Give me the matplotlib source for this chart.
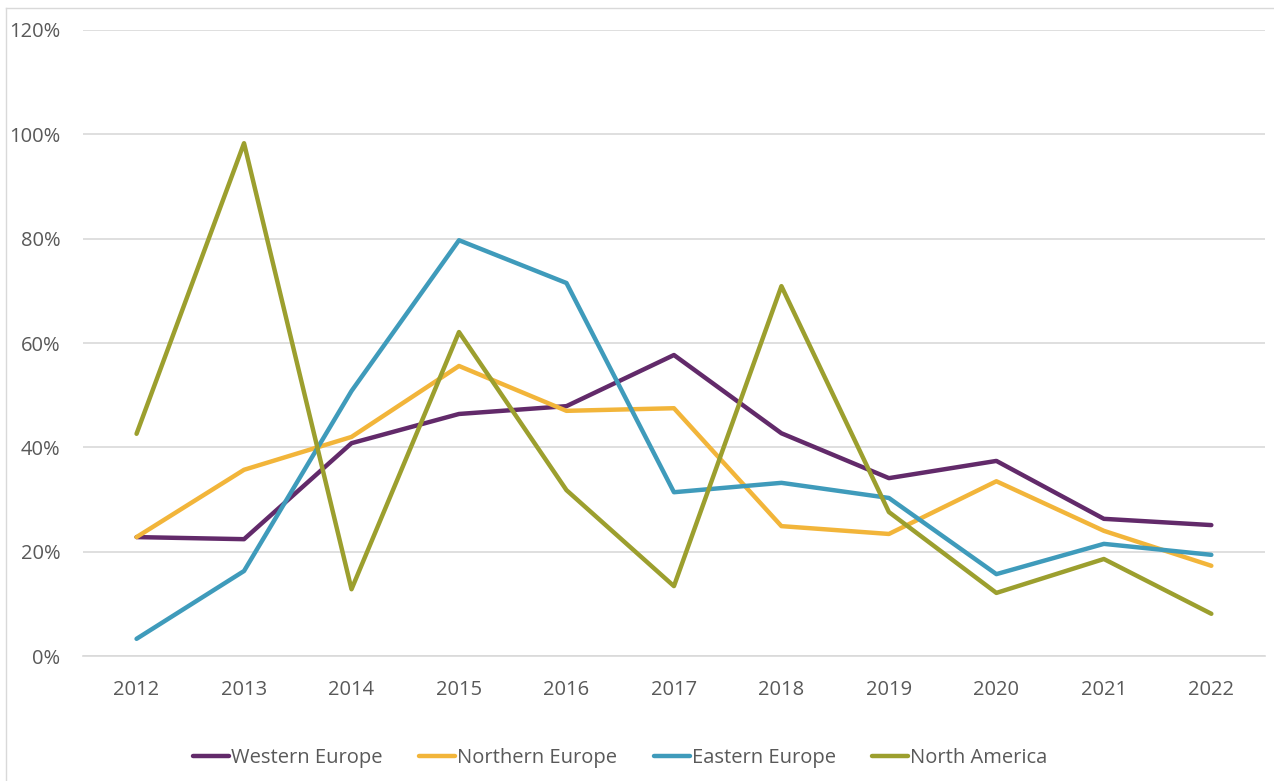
import matplotlib
matplotlib.use("Agg")
import matplotlib.pyplot as plt
from matplotlib.ticker import FuncFormatter
from matplotlib.lines import Line2D

years = [2012, 2013, 2014, 2015, 2016, 2017, 2018, 2019, 2020, 2021, 2022]
western_europe = [22.8, 22.4, 40.8, 46.4, 47.9, 57.7, 42.7, 34.1, 37.4, 26.3, 25.1]
northern_europe = [22.8, 35.7, 42.0, 55.6, 47.0, 47.5, 24.9, 23.4, 33.5, 24.0, 17.3]
eastern_europe = [3.3, 16.3, 50.8, 79.7, 71.5, 31.4, 33.2, 30.3, 15.7, 21.5, 19.4]
north_america = [42.6, 98.3, 12.8, 62.1, 31.8, 13.4, 70.9, 27.6, 12.1, 18.6, 8.1]

series = [
    ("Western Europe", western_europe, "#622A6A"),
    ("Northern Europe", northern_europe, "#F2B53A"),
    ("Eastern Europe", eastern_europe, "#3F9BBB"),
    ("North America", north_america, "#9C9F2E"),
]

plt.rcParams['font.family'] = ['Open Sans', 'DejaVu Sans']

fig = plt.figure(figsize=(12.74, 7.81), dpi=100)
ax = fig.add_axes([0.065, 0.160, 0.928, 0.8016])

for name, vals, col in series:
    ax.plot(years, vals, color=col, lw=3.2, label=name, solid_capstyle='round', solid_joinstyle='round')

ax.set_xlim(2011.5, 2022.5)
ax.set_ylim(0, 120)
ax.set_yticks(range(0, 121, 20))
ax.set_xticks(years)
ax.yaxis.set_major_formatter(FuncFormatter(lambda v, p: f"{int(v)}%"))
ax.grid(axis='y', color='#D9D9D9', lw=1.2)
ax.set_axisbelow(True)
for s in ['top', 'right', 'left']:
    ax.spines[s].set_visible(False)
ax.spines['bottom'].set_color('#D9D9D9')
ax.spines['bottom'].set_linewidth(1.2)
ax.tick_params(axis='both', length=0, labelsize=14.5, labelcolor='#595959')
ax.tick_params(axis='x', pad=17)
ax.tick_params(axis='y', pad=16)

handles = [Line2D([0], [0], color=c, lw=3.2, solid_capstyle='round') for _, _, c in series]
leg = fig.legend(handles, [n for n, _, _ in series], loc='center', bbox_to_anchor=(0.487, 0.029),
                 ncol=4, frameon=False, fontsize=14.5, handlelength=1.8, handletextpad=0.1,
                 columnspacing=1.8)
for t in leg.get_texts():
    t.set_color('#595959')

# outer chart border
fig.add_artist(Line2D([6/1274, 6/1274], [0, 1 - 8/781], transform=fig.transFigure, color='#D9D9D9', lw=1))
fig.add_artist(Line2D([6/1274, 1], [1 - 8/781, 1 - 8/781], transform=fig.transFigure, color='#D9D9D9', lw=1))

fig.savefig("out.png", dpi=100, facecolor='white')
